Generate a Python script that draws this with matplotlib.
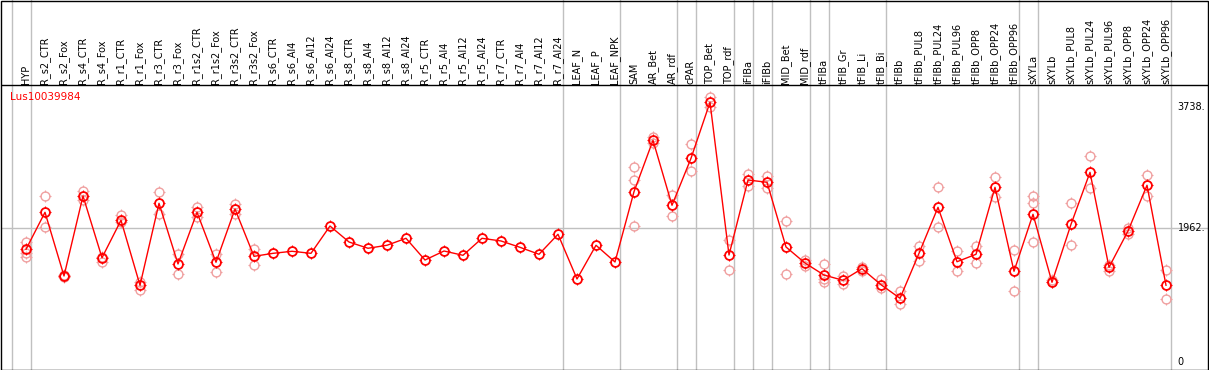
import matplotlib
matplotlib.use("Agg")
import matplotlib.pyplot as plt
import matplotlib.transforms as mtransforms
from matplotlib.patches import Rectangle
from matplotlib.path import Path

# ---------------- data ----------------
categories = [
    "HYP", "R_s2_CTR", "R_s2_Fox", "R_s4_CTR", "R_s4_Fox", "R_r1_CTR", "R_r1_Fox",
    "R_r3_CTR", "R_r3_Fox", "R_r1s2_CTR", "R_r1s2_Fox", "R_r3s2_CTR", "R_r3s2_Fox",
    "R_s6_CTR", "R_s6_Al4", "R_s6_Al12", "R_s6_Al24", "R_s8_CTR", "R_s8_Al4",
    "R_s8_Al12", "R_s8_Al24", "R_r5_CTR", "R_r5_Al4", "R_r5_Al12", "R_r5_Al24",
    "R_r7_CTR", "R_r7_Al4", "R_r7_Al12", "R_r7_Al24", "LEAF_N", "LEAF_P", "LEAF_NPK",
    "SAM", "AR_Bet", "AR_rdf", "cPAR", "TOP_Bet", "TOP_rdf", "iFIBa", "iFIBb",
    "MID_Bet", "MID_rdf", "tFIBa", "tFIB_Gr", "tFIB_Li", "tFIB_Bi", "tFIBb",
    "tFIBb_PUL8", "tFIBb_PUL24", "tFIBb_PUL96", "tFIBb_OPP8", "tFIBb_OPP24",
    "tFIBb_OPP96", "sXYLa", "sXYLb", "sXYLb_PUL8", "sXYLb_PUL24", "sXYLb_PUL96",
    "sXYLb_OPP8", "sXYLb_OPP24", "sXYLb_OPP96",
]

mean_values = [
    1654, 2196, 1263, 2435, 1531, 2079, 1127, 2328, 1439, 2196, 1464, 2244, 1551,
    1595, 1625, 1595, 1995, 1761, 1669, 1713, 1815, 1497, 1629, 1566, 1815,
    1776, 1683, 1581, 1874, 1219, 1713, 1468,
    2498, 3251, 2299, 2987, 3808, 1570, 2669, 2636, 1688, 1453,
    1277, 1200, 1370, 1135, 936,
    1595, 2269, 1472, 1581, 2562, 1332,
    2167, 1171, 2020, 2782, 1390, 1922, 2592, 1127,
]

replicate_values = [
    [1765, 1600, 1541], [2435, 1976], [1250, 1275], [2508, 2376], [1472, 1546],
    [2152, 2058], [1058, 1179], [2489, 2171], [1581, 1288], [2274, 2123],
    [1585, 1326], [2322, 2171], [1658, 1428],
    [], [], [], [], [], [], [], [], [], [], [], [], [], [], [], [], [], [], [],
    [2855, 2665, 1995], [3304, 3207], [2445, 2137], [3197, 2797], [3881, 3743],
    [1790, 1346], [2757, 2581], [2723, 2548], [2064, 1292], [1493, 1409],
    [1439, 1179, 1223], [1263, 1146], [1395, 1340], [1214, 1083], [1039, 848],
    [1702, 1487], [2562, 1976], [1625, 1340], [1702, 1449], [2709, 2416],
    [1639, 1039], [2435, 2328, 1757], [1204, 1175], [2328, 1713], [3016, 2548],
    [1420, 1340], [1962, 1874], [2738, 2439], [1346, 921],
]

group_sizes = [1, 28, 3, 3, 1, 2, 1, 1, 2, 1, 3, 7, 1, 7]
gene_label = "Lus10039984"
y_ticks = [3738, 1962, 0]
y_tick_labels = ["3738.", "1962.", "0"]

# ---------------- tick marker (four small outer stubs) ----------------
r_out = 1.35
tick_verts = [(0, 1), (0, r_out), (0, -1), (0, -r_out),
              (1, 0), (r_out, 0), (-1, 0), (-r_out, 0)]
tick_codes = [Path.MOVETO, Path.LINETO] * 4
tick_marker = Path(tick_verts, tick_codes)

# ---------------- figure ----------------
W, H = 1209, 370
fig = plt.figure(figsize=(W / 100, H / 100), dpi=100)
fig.patch.set_facecolor("white")

left_px, right_px, top_px, bottom_px = 1.5, 1208.5, 85.0, 369.5
ax = fig.add_axes([left_px / W, 1 - bottom_px / H,
                   (right_px - left_px) / W, (bottom_px - top_px) / H])
ax.set_facecolor("none")

x0_px, step_px = 26.0, 19.0
ax.set_xlim((left_px - x0_px) / step_px, (right_px - x0_px) / step_px)
v_per_px = 14.65
zero_px = 362.2
ax.set_ylim((zero_px - bottom_px) * v_per_px, (zero_px - top_px) * v_per_px)
ax.set_xticks([])
ax.set_yticks([])
for s in ["left", "right", "bottom"]:
    ax.spines[s].set_visible(False)
ax.spines["top"].set_color("black")
ax.spines["top"].set_linewidth(1.0)

grey = "#c0c0c0"
red = "#ff0000"
pink = "#f0a0a0"

blend = mtransforms.blended_transform_factory(ax.transData, fig.transFigure)

# group separators (full height)
offset = 4.5 / step_px
bounds = [-1]
c = 0
for g in group_sizes:
    c += g
    bounds.append(c - 1)
for b in bounds:
    ax.plot([b + offset, b + offset], [0, 1], color=grey, lw=1.0,
            transform=blend, clip_on=False, zorder=1)

ax.axhline(y_ticks[1], color=grey, lw=1.0, zorder=1)

xs = list(range(len(categories)))
circ_ms = 6.4
tick_ms = circ_ms * r_out

# replicates
for i, reps in enumerate(replicate_values):
    if reps:
        ax.plot([i] * len(reps), reps, linestyle="none", marker="o",
                ms=circ_ms, mfc="none", mec=pink, mew=1.0, zorder=2)
        ax.plot([i] * len(reps), reps, linestyle="none", marker=tick_marker,
                ms=tick_ms, mec=pink, mew=0.8, zorder=2)

# mean line and markers
ax.plot(xs, mean_values, color=red, lw=1.0, zorder=3)
ax.plot(xs, mean_values, linestyle="none", marker="o", ms=circ_ms,
        mfc="none", mec=red, mew=1.3, zorder=4)
ax.plot(xs, mean_values, linestyle="none", marker=tick_marker, ms=tick_ms,
        mec=red, mew=0.8, zorder=4)

# header labels
fs = 7
for i, lab in enumerate(categories):
    ax.text(i, 1 - 83.5 / H, lab, rotation=90, ha="center", va="bottom",
            fontsize=fs, family="DejaVu Sans", color="black", transform=blend)

# gene label
ax.text(10 / W, 1 - 97 / H, gene_label, color=red, fontsize=fs + 0.5,
        family="DejaVu Sans", ha="left", va="center", transform=fig.transFigure)

# right tick labels
ytrans = mtransforms.blended_transform_factory(fig.transFigure, ax.transData)
for v, t in zip(y_ticks, y_tick_labels):
    ax.text(1177.5 / W, v, t, ha="left", va="center", fontsize=fs,
            family="DejaVu Sans", color="black", transform=ytrans)

# outer border
fig.patches.append(Rectangle((0.5 / W, 0.5 / H), (W - 1.0) / W - 0.5 / W, (H - 1.0) / H,
                             transform=fig.transFigure, fill=False,
                             edgecolor="black", lw=1.0))

fig.savefig("out.png", dpi=100)
